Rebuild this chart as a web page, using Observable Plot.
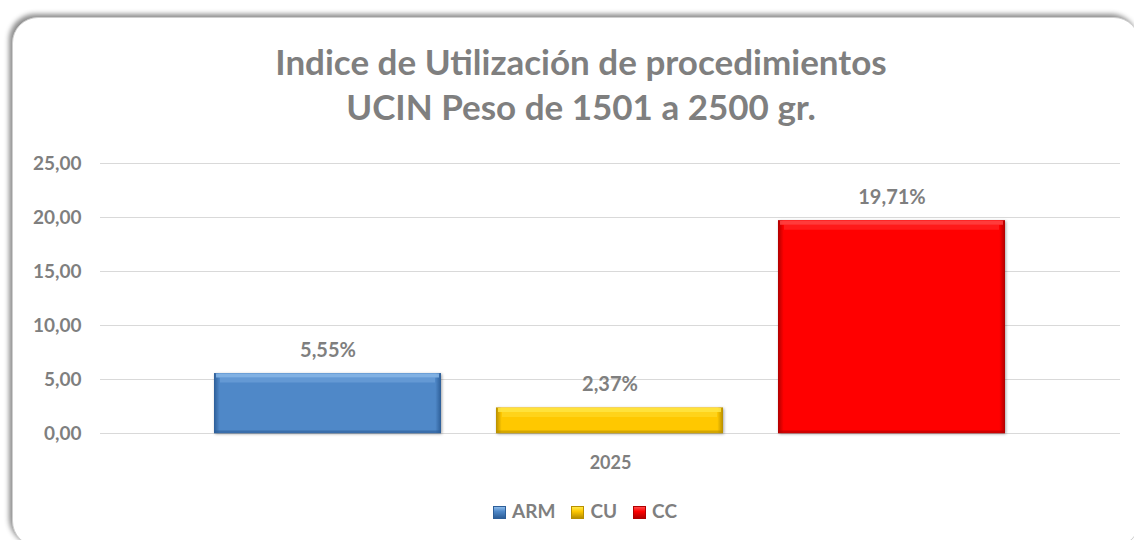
<!DOCTYPE html>
<html>
<head>
<meta charset="utf-8">
<script src="https://cdn.jsdelivr.net/npm/d3@7"></script>
<script src="https://cdn.jsdelivr.net/npm/@observablehq/plot@0.6"></script>
<style>
  html, body { margin: 0; padding: 0; background: #fff; }
  body { width: 1134px; height: 540px; position: relative; overflow: hidden; font-family: Lato, "Open Sans", sans-serif; }
  #frame { position: absolute; left: 12px; top: 17px; width: 1126px; height: 528px; border-radius: 26px;
           border: 1px solid #cfcfcf; background: #fff; box-shadow: -3px -3px 5px rgba(0,0,0,0.45); }
  #title { position: absolute; left: 0; top: 39px; width: 1162px; text-align: center; color: #7f7f7f;
           font-weight: bold; font-size: 35px; line-height: 45px; }
  #chart { position: absolute; left: 0; top: 140px; }
  #legend { position: absolute; left: 0; top: 499px; width: 1170px; text-align: center; color: #7f7f7f;
            font-weight: bold; font-size: 19px; line-height: 24px; }
  #legend .item { display: inline-block; margin: 0 8px; }
  #legend .sw { display: inline-block; width: 13px; height: 13px; margin-right: 6px; vertical-align: -1px; box-sizing: border-box; }
</style>
</head>
<body>
<div id="frame"></div>
<div id="title">Indice de Utilización de procedimientos<br>UCIN Peso de 1501 a 2500 gr.</div>
<div id="chart"></div>
<div id="legend"></div>
<script>
const series = ["ARM", "CU", "CC"];
const values = [5.55, 2.37, 19.71];
const years = ["2025"];
const yTicks = [0, 5, 10, 15, 20, 25];
const mainColors = ["#4f88c8", "#ffc800", "#ff0000"];
const lightColors = ["#8dbbea", "#ffe84a", "#ff4a4a"];
const darkColors = ["#2d5e98", "#b88f00", "#b00000"];

const data = series.map((s, i) => ({year: years[0], series: s, value: values[i], i}));
const fmt = v => v.toFixed(2).replace(".", ",");
const gray = "#7f7f7f";

const svg = Plot.plot({
  width: 1134,
  height: 340,
  marginTop: 23,
  marginBottom: 47,
  marginLeft: 100,
  marginRight: 14,
  style: {fontFamily: "Lato, 'Open Sans', sans-serif", background: "transparent", overflow: "visible"},
  fx: {domain: years, padding: 0, label: null, axis: null},
  x: {domain: series, paddingInner: 0.195, paddingOuter: 0.406, axis: null},
  y: {domain: [0, 25], axis: null},
  color: {type: "identity"},
  marks: [
    Plot.gridY(yTicks, {stroke: "#d9d9d9", strokeOpacity: 1, strokeWidth: 1.2}),
    Plot.axisY(yTicks, {tickSize: 0, tickPadding: 19, tickFormat: fmt, fontSize: 19, fontWeight: "bold", fill: gray, label: null}),
    Plot.axisFx({anchor: "bottom", tickSize: 0, tickPadding: 23, fontSize: 18, fontWeight: "bold", fill: gray, label: null}),
    Plot.barY(data, {fx: "year", x: "series", y: "value", fill: d => `url(#h-${d.series})`}),
    Plot.tickY(data, {fx: "year", x: "series", y: "value", stroke: d => lightColors[d.i], strokeWidth: 4, dy: 2, insetLeft: 2, insetRight: 2, strokeOpacity: 0.8}),
    Plot.tickY(data, {fx: "year", x: "series", y: "value", stroke: d => lightColors[d.i], strokeWidth: 5, dy: 6.5, insetLeft: 6, insetRight: 6, strokeOpacity: 0.35}),
    Plot.tickY(data, {fx: "year", x: "series", y: 0, stroke: d => darkColors[d.i], strokeWidth: 3, dy: -1.5, strokeOpacity: 0.6}),
    Plot.text(data, {fx: "year", x: "series", y: "value", text: d => fmt(d.value) + "%", dy: -23, fontSize: 20, fontWeight: "bold", fill: gray})
  ]
});

const defs = d3.select(svg).append("defs");
series.forEach((s, i) => {
  const g = defs.append("linearGradient").attr("id", `h-${s}`).attr("x1", 0).attr("x2", 1).attr("y1", 0).attr("y2", 0);
  [[0, darkColors[i]], [0.025, mainColors[i]], [0.975, mainColors[i]], [1, darkColors[i]]]
    .forEach(([o, c]) => g.append("stop").attr("offset", o).attr("stop-color", c));
});
d3.select(svg).selectAll("g[aria-label=bar]").style("filter", "drop-shadow(1px 1px 1.5px rgba(0,0,0,0.35))");

document.getElementById("chart").appendChild(svg);

const legend = document.getElementById("legend");
series.forEach((s, i) => {
  const item = document.createElement("span");
  item.className = "item";
  const sw = document.createElement("span");
  sw.className = "sw";
  sw.style.background = `linear-gradient(${lightColors[i]}, ${mainColors[i]} 40%, ${darkColors[i]})`;
  sw.style.border = `1px solid ${darkColors[i]}`;
  item.appendChild(sw);
  item.appendChild(document.createTextNode(s));
  legend.appendChild(item);
});
</script>
</body>
</html>
